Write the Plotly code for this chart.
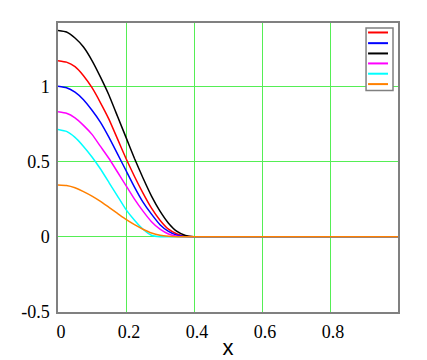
import plotly.graph_objects as go

x = [0, 0.025, 0.05, 0.075, 0.1, 0.125, 0.15, 0.175, 0.2, 0.225, 0.25, 0.275, 0.3,
     0.325, 0.35, 0.375, 0.4, 0.5, 0.6, 0.7, 0.8, 0.9, 1.0]

red = [1.17, 1.16, 1.13, 1.07, 0.99, 0.89, 0.78, 0.65, 0.52, 0.40, 0.29, 0.19, 0.11,
       0.05, 0.018, 0.004, 0, 0, 0, 0, 0, 0, 0]
blue = [1.0, 0.99, 0.96, 0.91, 0.84, 0.76, 0.66, 0.55, 0.44, 0.33, 0.23, 0.15, 0.08,
        0.035, 0.01, 0.002, 0, 0, 0, 0, 0, 0, 0]
black = [1.37, 1.36, 1.32, 1.26, 1.17, 1.06, 0.94, 0.80, 0.66, 0.52, 0.39, 0.27, 0.17,
         0.09, 0.035, 0.008, 0, 0, 0, 0, 0, 0, 0]
magenta = [0.83, 0.82, 0.79, 0.74, 0.68, 0.60, 0.52, 0.43, 0.34, 0.25, 0.17, 0.10, 0.05,
           0.018, 0.004, 0, 0, 0, 0, 0, 0, 0, 0]
cyan = [0.713, 0.70, 0.66, 0.60, 0.53, 0.45, 0.36, 0.27, 0.18, 0.11, 0.05, 0.01, 0,
        0, 0, 0, 0, 0, 0, 0, 0, 0, 0]
orange = [0.344, 0.34, 0.325, 0.30, 0.27, 0.235, 0.195, 0.155, 0.115, 0.08, 0.05, 0.025, 0.01,
          0.003, 0, 0, 0, 0, 0, 0, 0, 0, 0]

series = [red, blue, black, magenta, cyan, orange]
colors = ["#ff0000", "#0000ff", "#000000", "#ff00ff", "#00ffff", "#ff8000"]

x_ticks = [0, 0.2, 0.4, 0.6, 0.8]
x_tick_labels = ["0", "0.2", "0.4", "0.6", "0.8"]
y_ticks = [-0.5, 0, 0.5, 1]
y_tick_labels = ["-0.5", "0", "0.5", "1"]

SERIF = "Liberation Serif, Times New Roman, serif"

fig = go.Figure()
for s, c in zip(series, colors):
    fig.add_trace(go.Scatter(x=x, y=s, mode="lines", showlegend=False,
                             line=dict(color=c, width=1.5, shape="spline", smoothing=0.4)))

# the page body has an 8px margin, so the figure is offset by 8px in both directions
OFF = 8
L, T, R, B = 57.5 - OFF, 22.5 - OFF, 398, 312  # plot box in window pixels
W, H = 427 - OFF, 360 - OFF
pw, ph = R - OFF - L, (B - OFF) - T


def px_to_paper(px, py):
    return (px - OFF - L) / pw, 1 - (py - OFF - T) / ph


# legend key (no text in the original): box + short coloured samples
bx0, by0 = px_to_paper(366, 90)
bx1, by1 = px_to_paper(393, 27.5)
shapes = [dict(type="rect", xref="paper", yref="paper", x0=bx0, x1=bx1, y0=by0, y1=by1,
               line=dict(color="#808080", width=1.5), fillcolor="white", layer="above")]
legend_py = [32, 42.7, 53, 63, 73.3, 83.7]
for py, c in zip(legend_py, colors):
    lx0, ly = px_to_paper(368, py)
    lx1, _ = px_to_paper(388, py)
    shapes.append(dict(type="line", xref="paper", yref="paper", x0=lx0, x1=lx1, y0=ly, y1=ly,
                       line=dict(color=c, width=2), layer="above"))

fig.update_layout(
    width=W, height=H,
    margin=dict(l=L, r=W - (R - OFF), t=T, b=H - (B - OFF), pad=0),
    paper_bgcolor="white", plot_bgcolor="white",
    font=dict(family=SERIF, size=18, color="black"),
    showlegend=False,
    shapes=shapes,
)
fig.update_xaxes(range=[0, 1.0], tickvals=x_ticks, ticktext=x_tick_labels,
                 tickfont=dict(family=SERIF, size=18, color="black"),
                 showgrid=True, gridcolor="#55ee55", gridwidth=1,
                 showline=True, linecolor="#808080", linewidth=1.5, mirror=True,
                 zeroline=False, ticks="", ticklabelstandoff=3, ticklabelshift=3,
                 automargin=False,
                 title=dict(text="x", font=dict(family="Liberation Sans, Arial, sans-serif", size=22),
                            standoff=0))
fig.update_yaxes(range=[-0.5, 1.42], tickvals=y_ticks, ticktext=y_tick_labels,
                 tickfont=dict(family=SERIF, size=18, color="black"),
                 showgrid=True, gridcolor="#55ee55", gridwidth=1,
                 showline=True, linecolor="#808080", linewidth=1.5, mirror=True,
                 zeroline=False, ticks="", ticklabelstandoff=3, automargin=False)

fig.write_html("out.html")
